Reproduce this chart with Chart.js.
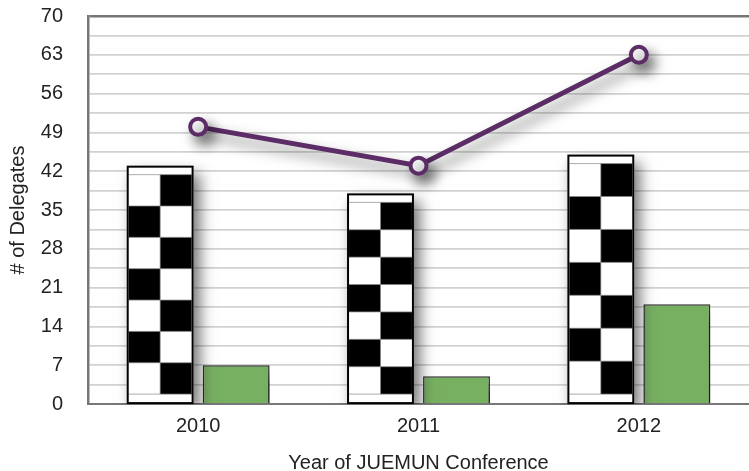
<!DOCTYPE html>
<html>
<head>
<meta charset="utf-8">
<script src="https://cdn.jsdelivr.net/npm/chart.js@4/dist/chart.umd.min.js"></script>
<style>
html,body{margin:0;padding:0;background:#fff;}
#c{display:block;}
</style>
</head>
<body>
<canvas id="c" width="749" height="471"></canvas>
<script>
const categories = ['2010', '2011', '2012'];
const checkerValues = [43, 38, 45];
const greenValues = [7, 5, 18];
const lineValues = [50, 43, 63];
const yTickLabels = [0, 7, 14, 21, 28, 35, 42, 49, 56, 63, 70];

const FONT = "'Liberation Sans', Arial, Helvetica, sans-serif";
const PURPLE = '#5b2c66';
const GREEN = '#78b062';

const shadowPlugin = {
  id: 'shadows',
  beforeDatasetDraw(chart, args) {
    const ctx = chart.ctx;
    ctx.save();
    ctx.shadowColor = 'rgba(0,0,0,0.55)';
    ctx.shadowBlur = 14;
    ctx.shadowOffsetX = 6;
    ctx.shadowOffsetY = 8;
  },
  afterDatasetDraw(chart, args) {
    const ctx = chart.ctx;
    ctx.restore();
    if (args.index === 0) {
      args.meta.data.forEach(el => {
        const w = el.width;
        const left = el.x - w / 2 + 2;
        const right = el.x + w / 2 - 2;
        const top = el.y + 9;
        const bottom = el.base - 9;
        const rows = 7;
        const rh = (bottom - top) / rows;
        const cw = (right - left) / 2;
        ctx.save();
        ctx.fillStyle = '#000';
        for (let r = 0; r < rows; r++) {
          const y0 = top + r * rh;
          const col = (r % 2 === 0) ? 1 : 0;
          ctx.fillRect(left + col * cw, y0, cw, rh);
        }
        ctx.strokeStyle = '#888';
        ctx.lineWidth = 0.7;
        for (let r = 0; r <= rows; r++) {
          ctx.beginPath();
          ctx.moveTo(left, top + r * rh);
          ctx.lineTo(right, top + r * rh);
          ctx.stroke();
        }
        ctx.beginPath();
        ctx.moveTo(left + cw, top);
        ctx.lineTo(left + cw, bottom);
        ctx.stroke();
        ctx.strokeStyle = '#000';
        ctx.lineWidth = 2;
        ctx.strokeRect(el.x - w / 2 + 1, el.y + 1, w - 2, el.base - el.y - 1);
        ctx.restore();
      });
    }
  }
};

new Chart(document.getElementById('c'), {
  type: 'bar',
  data: {
    labels: categories,
    datasets: [
      {
        label: 'Series A',
        data: checkerValues,
        backgroundColor: '#ffffff',
        borderColor: '#000',
        borderWidth: 0,
        barPercentage: 0.88,
        categoryPercentage: 0.69,
        order: 1
      },
      {
        label: 'Series B',
        data: greenValues,
        backgroundColor: GREEN,
        borderColor: '#333',
        borderWidth: 1.5,
        barPercentage: 0.88,
        categoryPercentage: 0.69,
        order: 1
      },
      {
        type: 'line',
        label: 'Series C',
        data: lineValues,
        borderColor: PURPLE,
        borderWidth: 5,
        backgroundColor: '#ffffff',
        pointBackgroundColor: '#ffffff',
        pointBorderColor: PURPLE,
        pointBorderWidth: 4,
        pointRadius: 8,
        tension: 0,
        order: 0
      }
    ]
  },
  options: {
    responsive: false,
    animation: false,
    devicePixelRatio: 1,
    layout: { autoPadding: false, padding: { top: 16, right: 0, left: 0, bottom: 0 } },
    plugins: {
      legend: { display: false },
      tooltip: { enabled: false }
    },
    scales: {
      x: {
        grid: { display: false, drawTicks: false },
        border: { display: true, color: '#777', width: 2 },
        ticks: { color: '#222', font: { family: FONT, size: 20 }, padding: 10 },
        title: { display: true, text: 'Year of JUEMUN Conference', color: '#222', font: { family: FONT, size: 20 }, padding: { top: 0, bottom: -4 } },
        afterFit(scale) {
          scale.height = 67;
          scale.paddingLeft = 0;
          scale.paddingRight = 0;
        }
      },
      y: {
        min: 0,
        max: 70,
        grid: {
          drawTicks: false,
          color: ctx => (ctx.tick && ctx.tick.value === 70) ? '#777' : '#d2d2d2',
          lineWidth: ctx => (ctx.tick && ctx.tick.value === 70) ? 2.5 : 1.8
        },
        border: { display: true, color: '#777', width: 2.5 },
        ticks: {
          stepSize: 3.5,
          color: '#222',
          font: { family: FONT, size: 20 },
          padding: 25,
          autoSkip: false,
          callback: v => yTickLabels.includes(v) ? String(v) : ''
        },
        title: { display: true, text: '# of Delegates', color: '#222', font: { family: FONT, size: 20 }, padding: { top: 6, bottom: 0 } },
        afterFit(scale) {
          scale.width = 88;
          scale.paddingTop = 0;
          scale.paddingBottom = 0;
        }
      }
    }
  },
  plugins: [shadowPlugin]
});
</script>
</body>
</html>
